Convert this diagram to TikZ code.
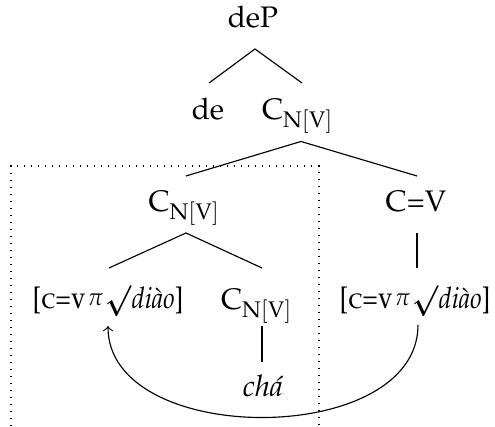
\documentclass[tikz,border=0pt]{standalone}
\usepackage[T1]{fontenc}
\usepackage[sc]{mathpazo}
\usepackage{amsmath}
\usepackage{graphicx}
\usetikzlibrary{calc}
\tikzset{
  lab/.style={anchor=base, inner sep=0pt, font=\fontsize{10.4}{12.5}\selectfont},
  branch/.style={line width=0.4pt},
  movearrow/.style={line width=0.4pt, ->, >=to},
  boxline/.style={line width=0.45pt, dotted}
}
\newcommand{\CNV}{C$_{\mathrm{N[V]}}$}
\newcommand{\rootlab}{\resizebox{52.8pt}{\height}{[\textsc{c=v}\hspace{1pt}\raisebox{1.3pt}{\fontsize{8.5}{9}\selectfont$\pi$}\hspace{1pt}$\boldsymbol{\surd}$\textit{di\`ao}]}}
\begin{document}
\begin{tikzpicture}[x=0.35pt, y=-0.35pt]
\useasboundingbox (0,0) rectangle (495,427);
\clip (0,0) rectangle (495,427);
% dotted box
\draw[boxline] (11,440) -- (11,166) -- (319,166) -- (319,440);
% nodes
\node[lab] (deP) at (253,28) {deP};
\node[lab] (de) at (208,120) {de};
\node[lab] (cnv1) at (298,120) {\CNV};
\node[lab] (cnv2) at (184.5,212) {\CNV};
\node[lab] (cv) at (416,212) {C=V};
\node[lab] (lroot) at (108,309) {\rootlab};
\node[lab] (cnv3) at (257,310) {\CNV};
\node[lab] (rroot) at (415,309) {\rootlab};
\node[lab] (cha) at (263,397) {\textit{ch\'a}};
% branches
\draw[branch] ($(de.base)+(1,-37)$) -- ($(deP.base)+(2,21)$) -- ($(cnv1.base)+(4,-37)$);
\draw[branch] ($(cnv2.base)+(1.5,-36)$) -- ($(cnv1.base)+(3,21.5)$) -- ($(cv.base)+(1,-36)$);
\draw[branch] ($(lroot.base)+(1,-41)$) -- ($(cnv2.base)+(1.5,21)$) -- ($(cnv3.base)+(5,-42)$);
\draw[branch] ($(cv.base)+(1,21)$) -- ($(rroot.base)+(2,-41)$);
\draw[branch] ($(cnv3.base)+(5,16)$) -- ($(cha.base)+(-1,-35)$);
% movement arrow
\draw[movearrow] ($(rroot.base)+(3,16)$) .. controls ($(rroot.base)+(3,139)$) and ($(lroot.base)+(0,139)$) .. ($(lroot.base)+(0,17)$);
\end{tikzpicture}
\end{document}
